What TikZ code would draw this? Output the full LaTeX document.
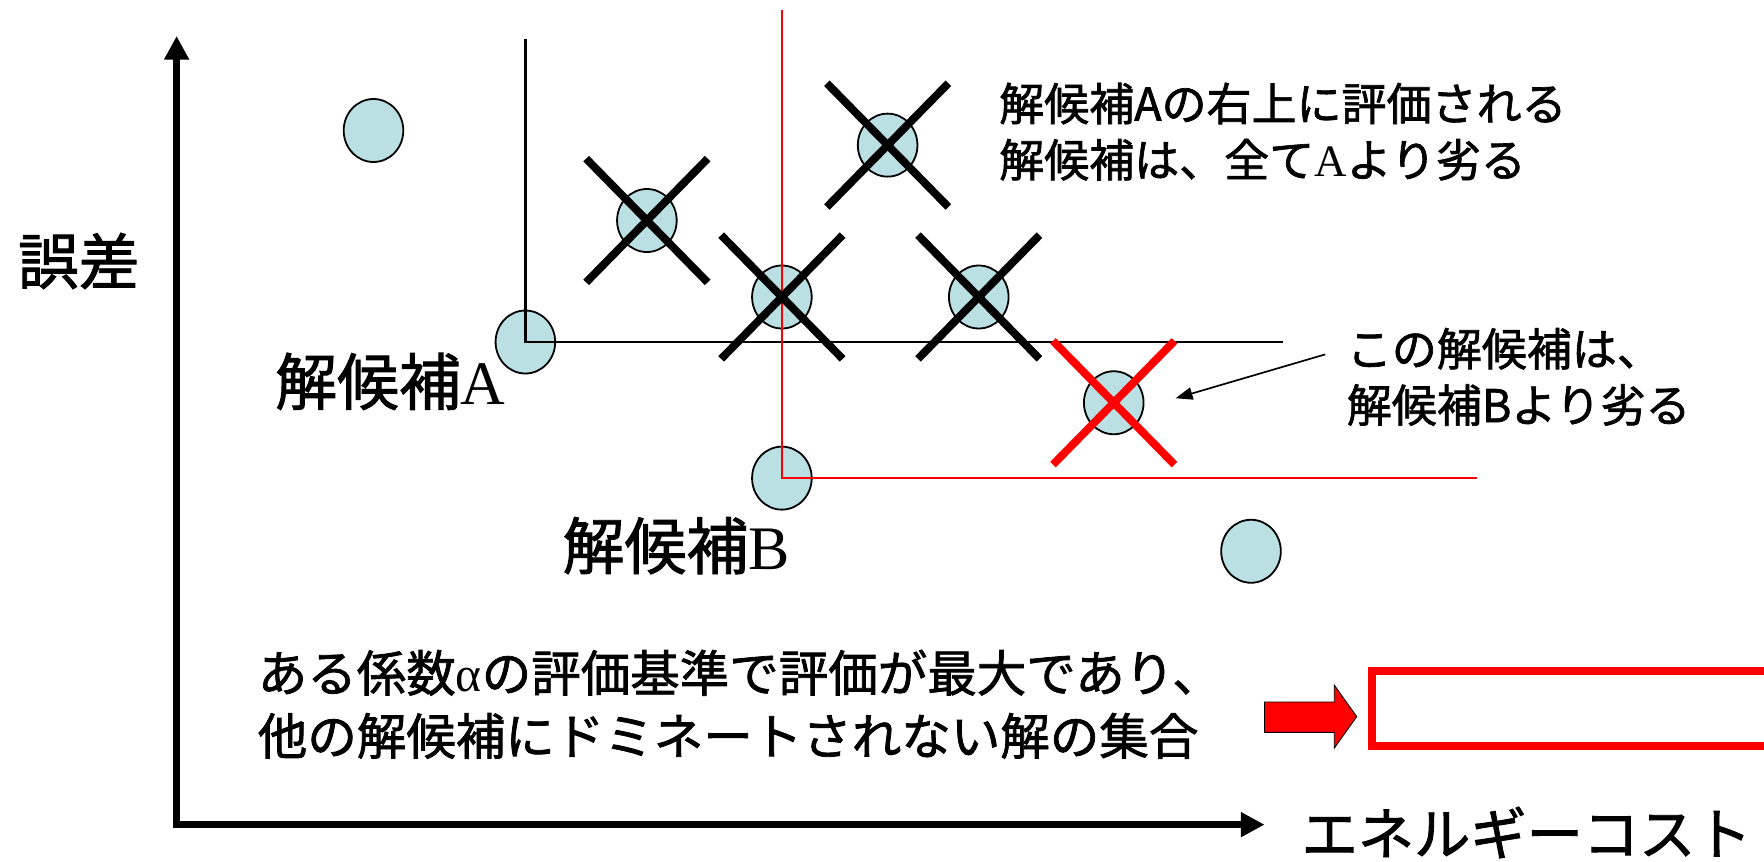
\documentclass[tikz,border=0pt]{standalone}
\usepackage{fontspec}
\setmainfont{Noto Sans CJK JP}[FakeBold=1.5]
\newfontfamily\tmfont{Liberation Serif}
\usetikzlibrary{arrows.meta,shapes.geometric}
\definecolor{dotfill}{RGB}{187,224,227}
\definecolor{xred}{RGB}{255,0,0}
\begin{document}
\begin{tikzpicture}[x=1pt,y=-1pt,
  dot/.style={ellipse, draw=black, line width=1.6pt, fill=dotfill, minimum width=53pt, minimum height=56pt, inner sep=0pt},
  cross/.style={line width=7pt, black},
  redcross/.style={line width=7pt, xred},
  guide/.style={line width=2pt, black},
  redguide/.style={line width=1.7pt, xred},
  axis/.style={line width=6.5pt, line join=miter, {Triangle[length=21pt,width=21pt]}-{Triangle[length=21pt,width=21pt]}},
  lbl/.style={inner sep=0pt, font=\fontsize{55}{66}\selectfont},
  note/.style={inner sep=0pt, align=left, font=\fontsize{40}{50}\selectfont},
]
\useasboundingbox (0,0) rectangle (1568,766);
\begin{scope}
\clip (0,0) rectangle (1568,766);
% axes
\coordinate (ytip) at (157,32);
\coordinate (orig) at (157,733);
\coordinate (xtip) at (1124,733);
\draw[axis] (ytip) -- (orig) -- (xtip);
% candidate solutions
\node[dot] (c1) at (332,116) {};
\node[dot] (c2) at (575,196) {};
\node[dot] (c3) at (789,129) {};
\node[dot] (c4) at (695,264) {};
\node[dot] (c5) at (870,264) {};
\node[dot] (cA) at (467,304) {};
\node[dot] (c7) at (990,358) {};
\node[dot] (cB) at (695,425) {};
\node[dot] (c9) at (1112,490) {};
% guide lines
\coordinate (Atop) at (467,35);
\coordinate (Aright) at (1140,304);
\coordinate (Btop) at (695,9);
\coordinate (Bright) at (1313,425);
\draw[guide] (Atop) -- (cA.center) -- (Aright);
\draw[redguide] (Btop) -- (cB.center) -- (Bright);
% crosses
\foreach \c in {c2,c3,c4,c5}{
  \draw[cross] (\c.center) +(-54,-55) -- +(54,55);
  \draw[cross] (\c.center) +(54,-55) -- +(-54,55);
}
\draw[redcross] (c7.center) +(-54,-55) -- +(54,55);
\draw[redcross] (c7.center) +(54,-55) -- +(-54,55);
% labels
\node[lbl] (labA) at (347,339) {解候補{\tmfont A}};
\node[lbl] (labB) at (601,485) {解候補{\tmfont B}};
\node[inner sep=0pt, font=\fontsize{54}{64}\selectfont] (ylab) at (70,232) {誤差};
\node[inner sep=0pt, font=\fontsize{50}{60}\selectfont] (xlab) at (1357,740) {エネルギーコスト};
\node[note, anchor=west] (noteA) at (888,117) {解候補Aの右上に評価される\\解候補は、全て{\tmfont A}より劣る};
\node[note, anchor=west] (noteB) at (1197,335) {この解候補は、\\解候補Bより劣る};
\coordinate (arrS) at (1178,315);
\coordinate (arrE) at (1045,354);
\draw[line width=1.5pt, -{Triangle[length=15pt,width=11pt]}] (arrS) -- (arrE);
\node[inner sep=0pt, align=left, font=\fontsize{44}{56}\selectfont, anchor=west] (summary) at (229,626) {ある係数{\tmfont α}の評価基準で評価が最大であり、\\他の解候補にドミネートされない解の集合};
% block arrow and box
\draw[fill=xred, draw=black, line width=0.8pt] (1124,624) -- (1186,624) -- (1186,609) -- (1206,637) -- (1186,665) -- (1186,651) -- (1124,651) -- cycle;
\draw[xred, line width=7.5pt] (1219.75,596.5) rectangle (1640,663);
\end{scope}
\end{tikzpicture}
\end{document}
